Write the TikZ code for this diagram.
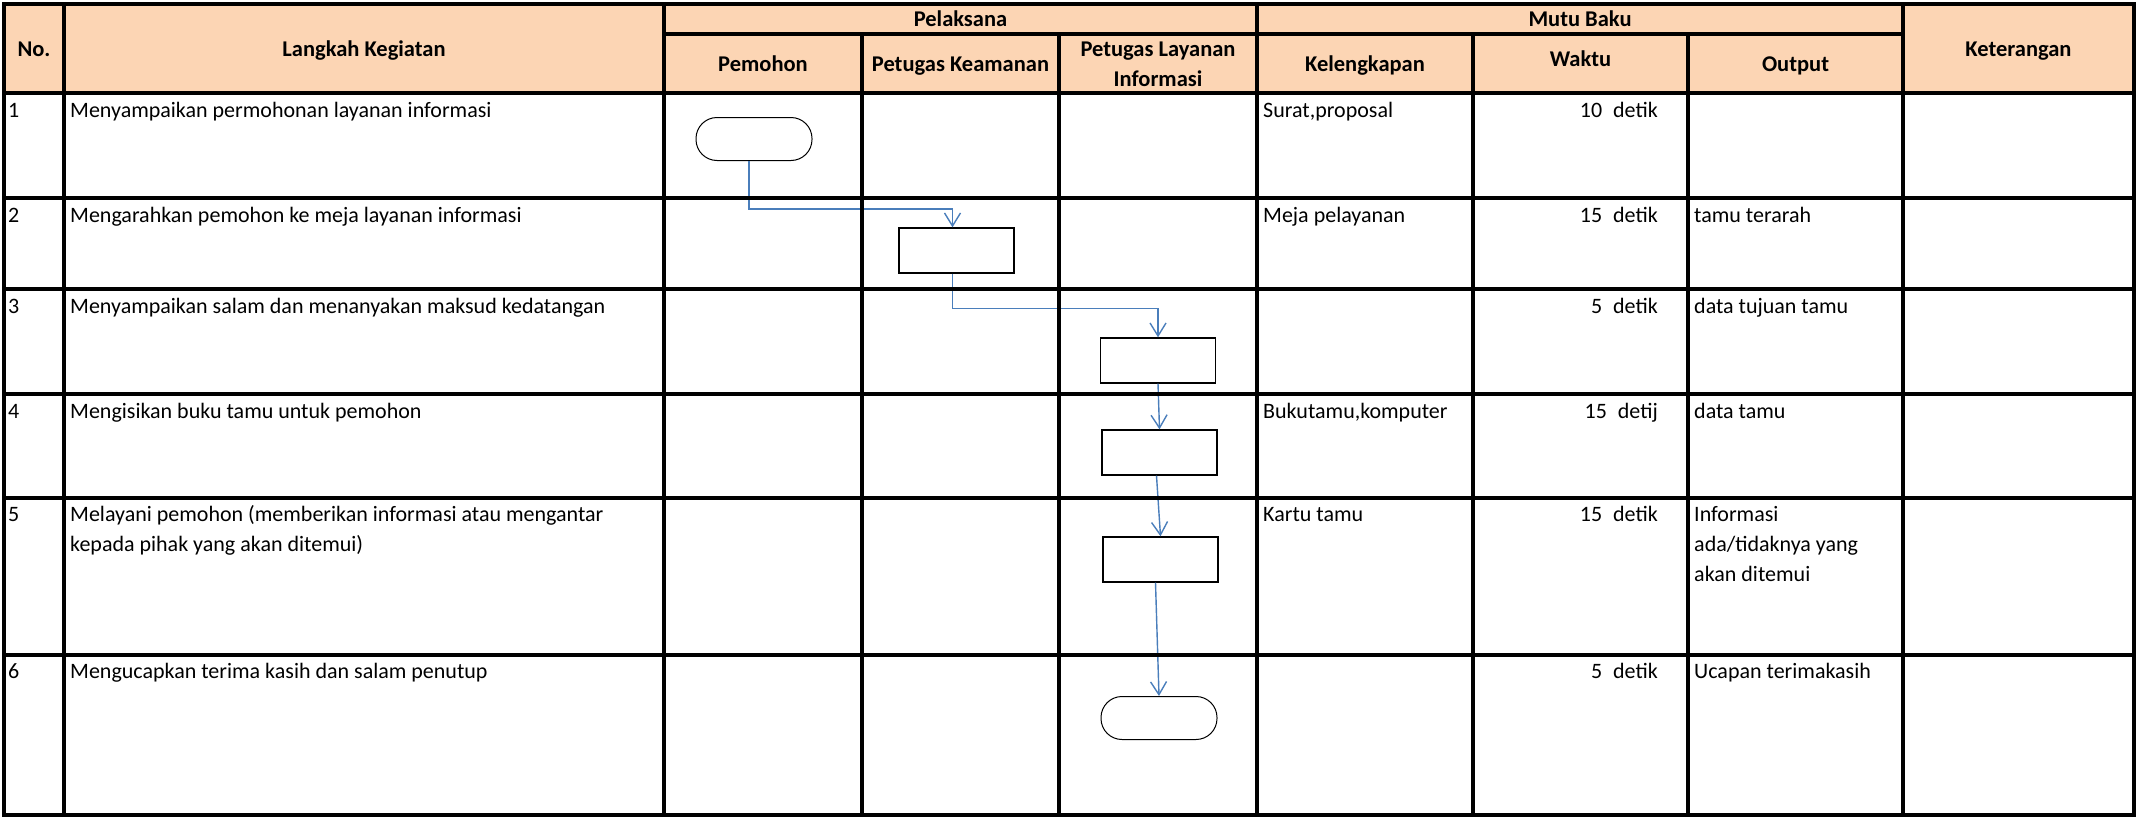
\documentclass[tikz,border=0pt]{standalone}
\usepackage{fontspec}
\setmainfont{Carlito}
\usetikzlibrary{arrows.meta}
\definecolor{headfill}{RGB}{252,213,180}
\definecolor{flowblue}{RGB}{74,126,187}

\begin{document}
\begin{tikzpicture}[x=1pt,y=1pt]
\tikzstyle{every node}+=[inner sep=0pt,font=\fontsize{22}{30}\selectfont]
\tikzstyle{grid}=[black,line width=3.2pt]
\tikzstyle{hd}=[font=\fontsize{22.5}{30}\selectfont\bfseries,align=center,anchor=base]
\tikzstyle{cell}=[anchor=base west,align=left]
\tikzstyle{proc}=[draw=black,line width=1.4pt,minimum width=115pt,minimum height=45pt]
\tikzstyle{term}=[draw=black,line width=1pt,rounded corners=21pt,minimum width=116pt,minimum height=43pt]
\tikzstyle{flow}=[flowblue,line width=1.4pt,-{Straight Barb[length=13pt,width=16pt]}]
\useasboundingbox (0,0) rectangle (2138,-819);
\fill [headfill] (4,-4) rectangle (2134,-93);
% header
\draw (34,-56) node [hd] (hNo) {No.};
\draw (364,-56) node [hd] (hLangkah) {Langkah Kegiatan};
\draw (960.5,-26) node [hd] (hPelaksana) {Pelaksana};
\draw (1580,-26) node [hd] (hMutu) {Mutu Baku};
\draw (2018.5,-56) node [hd] (hKet) {Keterangan};
\draw (763,-71) node [hd] (hPemohon) {Pemohon};
\draw (960.5,-71) node [hd] (hKeamanan) {Petugas Keamanan};
\draw (1158,-86) node [hd] (hLayanan) {Petugas Layanan\\Informasi};
\draw (1365,-71) node [hd] (hKelengkapan) {Kelengkapan};
\draw (1580.5,-66) node [hd] (hWaktu) {Waktu};
\draw (1795.5,-71) node [hd] (hOutput) {Output};
% rows
\draw (8,-117) node [cell] (no1) {1};
\draw (70,-117) node [cell] (keg1) {Menyampaikan permohonan layanan informasi};
\draw (1263,-117) node [cell] (kel1) {Surat,proposal};
\draw (1658,-117) node [anchor=base east] (wkt1) {10\hspace{11pt}detik};
\draw (8,-222) node [cell] (no2) {2};
\draw (70,-222) node [cell] (keg2) {Mengarahkan pemohon ke meja layanan informasi};
\draw (1263,-222) node [cell] (kel2) {Meja pelayanan};
\draw (1658,-222) node [anchor=base east] (wkt2) {15\hspace{11pt}detik};
\draw (1694,-222) node [cell] (out2) {tamu terarah};
\draw (8,-313) node [cell] (no3) {3};
\draw (70,-313) node [cell] (keg3) {Menyampaikan salam dan menanyakan maksud kedatangan};
\draw (1658,-313) node [anchor=base east] (wkt3) {5\hspace{11pt}detik};
\draw (1694,-313) node [cell] (out3) {data tujuan tamu};
\draw (8,-418) node [cell] (no4) {4};
\draw (70,-418) node [cell] (keg4) {Mengisikan buku tamu untuk pemohon};
\draw (1263,-418) node [cell] (kel4) {Bukutamu,komputer};
\draw (1658,-418) node [anchor=base east] (wkt4) {15\hspace{11pt}detij};
\draw (1694,-418) node [cell] (out4) {data tamu};
\draw (8,-521) node [cell] (no5) {5};
\draw (70,-551) node [cell] (keg5) {Melayani pemohon (memberikan informasi atau mengantar\\kepada pihak yang akan ditemui)};
\draw (1263,-521) node [cell] (kel5) {Kartu tamu};
\draw (1658,-521) node [anchor=base east] (wkt5) {15\hspace{11pt}detik};
\draw (1694,-581) node [cell] (out5) {Informasi\\ada/tidaknya yang\\akan ditemui};
\draw (8,-678) node [cell] (no6) {6};
\draw (70,-678) node [cell] (keg6) {Mengucapkan terima kasih dan salam penutup};
\draw (1658,-678) node [anchor=base east] (wkt6) {5\hspace{11pt}detik};
\draw (1694,-678) node [cell] (out6) {Ucapan terimakasih};
% flow
\draw (754,-139) node [term] (mulai) {};
\draw (956.5,-250.5) node [proc] (arahkan) {};
\draw (1158,-360.5) node [proc] (salam) {};
\draw (1159.5,-452.5) node [proc] (bukutamu) {};
\draw (1160.5,-559.5) node [proc] (layani) {};
\draw (1159,-718) node [term] (selesai) {};
\draw [flow] ([xshift=-5pt]mulai.south) -- ++(0,-48) -| ([xshift=-4pt]arahkan.north);
\draw [flow] ([xshift=-4pt]arahkan.south) -- ++(0,-35) -| (salam.north);
\draw [flow] (salam.south) -- (bukutamu.north);
\draw [flow] ([xshift=-3pt]bukutamu.south) -- (layani.north);
\draw [flow] ([xshift=-5pt]layani.south) -- (selesai.north);
% grid
\draw [grid] (4,-4) rectangle (2134,-815);
\draw [grid] (664,-34) -- (1903,-34);
\draw [grid] (4,-93) -- (2134,-93);
\draw [grid] (4,-198) -- (2134,-198);
\draw [grid] (4,-289) -- (2134,-289);
\draw [grid] (4,-394) -- (2134,-394);
\draw [grid] (4,-498) -- (2134,-498);
\draw [grid] (4,-655) -- (2134,-655);
\draw [grid] (64,-4) -- (64,-815);
\draw [grid] (664,-4) -- (664,-815);
\draw [grid] (1257,-4) -- (1257,-815);
\draw [grid] (1903,-4) -- (1903,-815);
\draw [grid] (862,-34) -- (862,-815);
\draw [grid] (1059,-34) -- (1059,-815);
\draw [grid] (1473,-34) -- (1473,-815);
\draw [grid] (1688,-34) -- (1688,-815);
\end{tikzpicture}
\end{document}
